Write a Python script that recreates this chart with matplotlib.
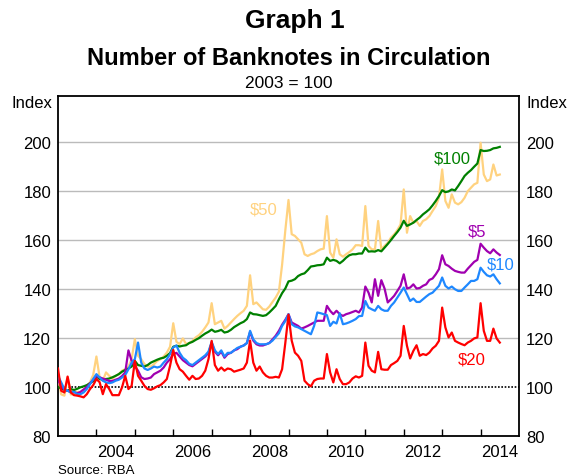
import matplotlib
matplotlib.use("Agg")
import matplotlib.pyplot as plt
import numpy as np

plt.rcParams['font.family'] = ['Liberation Sans', 'DejaVu Sans']

# Monthly data, Dec 2002 .. Jun 2014 (end-of-month), index 2003 = 100
start_year = 2003.0
n100 = [100, 99.5, 98.9, 98.5, 99.2, 98.8, 99.3, 99.9, 100.3, 100.8, 101.6, 102.4,
        104.4, 103.3, 103, 103.3, 103.5, 104, 104.6, 105.3, 106.3, 107, 107.6, 108.4,
        110.7, 109, 108.7, 108.4, 109, 110, 110.6, 111.2, 111.7, 112, 112.8, 113.9,
        116.5, 116.9, 116.6, 116.9, 117.1, 118, 118.5, 119.3, 120, 121, 121.9, 122.6,
        123.5, 122.6, 122.9, 123.4, 122.3, 122.6, 123.4, 124.5, 125.3, 126.1, 126.7, 127.8,
        130.5, 129.8, 129.7, 129.4, 129.1, 129.4, 130.5, 131.8, 133.2, 135.9, 138.4, 140.3,
        143.2, 143.5, 144.1, 145.4, 146.1, 146.5, 147.8, 149.3, 149.5, 149.8, 149.9, 150.2,
        152.9, 151.6, 152, 151.6, 150.6, 151.6, 152.9, 153.9, 154.3, 154.3, 154.6, 154.6,
        157, 155.4, 155.5, 155.4, 156, 155.5, 157, 158.5, 160.1, 161.8, 163.4, 165.2,
        168, 165.9, 166.5, 167.2, 168.3, 169.3, 170.6, 171.6, 172.7, 174.3, 176.1, 178.1,
        180.5, 179.7, 180, 180.8, 180.4, 182.2, 184.2, 186.3, 187.6, 188.7, 190.1, 191.4,
        196.9, 196.5, 196.6, 196.9, 197.6, 197.8, 198.2]
n50 = [104, 97, 96.5, 104, 97, 97, 98, 98, 99, 100, 102, 105,
       112.5, 104, 102.6, 106, 104.6, 103.3, 104.6, 105.3, 106.7, 107.3, 108.4, 111.4,
       119.6, 112.8, 111.4, 109.4, 108.4, 108.4, 109.4, 110.7, 111.4, 112.5, 114.1, 116.5,
       126.1, 118.5, 117.6, 119.9, 117.6, 118, 118.9, 120.3, 121.2, 122.6, 124.4, 126.4,
       134.3, 125.7, 126.4, 127.1, 123.9, 125, 126.4, 127.8, 129.1, 130.2, 131.2, 133.2,
       145.7, 133.9, 134.6, 133.2, 131.8, 131.6, 132.9, 134.8, 136.6, 139, 150, 164,
       176.5, 162.5, 161.8, 160.4, 159, 154.3, 153.6, 154.3, 154.7, 155.6, 156.3, 156.6,
       169.9, 155, 152.9, 160.4, 154.3, 153.3, 154.3, 155.2, 156.3, 158, 158, 157.7,
       174, 157.7, 156.3, 156.3, 167.9, 156.3, 157.7, 159, 161.1, 162.4, 164.2, 166.5,
       180.8, 163.1, 169.9, 167.2, 167.9, 165.9, 167.9, 168.6, 169.9, 172, 174, 177.4,
       189, 176.1, 173.3, 178.8, 175.4, 174.7, 175.6, 177.4, 180.1, 181.5, 182.9, 183.5,
       199.9, 186.9, 184.2, 184.9, 191, 186.5, 186.9]
n20 = [107.6, 98.5, 97.8, 104.3, 97.8, 96.7, 96.5, 96.2, 95.8, 97.1, 99.2, 100.8,
       103.3, 102, 97.1, 101.2, 99.2, 96.7, 96.7, 96.7, 99.9, 104.6, 99.2, 100.5,
       110.7, 104.6, 102.6, 100.5, 99.2, 98.9, 99.5, 100.3, 100.8, 101.9, 103.3, 108.7,
       115.2, 110, 107.3, 106.3, 104.6, 103, 104.6, 103.3, 103.5, 104.6, 106.7, 111.4,
       118.9, 109, 106.7, 108, 106.7, 107.6, 107.3, 106.3, 106.7, 107.1, 107.6, 110,
       119, 110, 106.7, 108.4, 106, 104.6, 103.9, 103.9, 104.2, 103.9, 107.3, 118,
       129.6, 119, 114.1, 112.8, 110.7, 102.6, 101.2, 100.3, 102.6, 103.3, 103.5, 103.5,
       113.5, 106, 101.9, 107.3, 103.3, 101.2, 101.2, 101.9, 103.5, 104.4, 103.9, 104.6,
       118.2, 108.7, 106.7, 106, 114.4, 107.3, 107.1, 107.1, 109, 109.8, 110.7, 112.8,
       125, 116.9, 111.7, 114.8, 117.1, 112.8, 113.5, 113.1, 114.1, 115.8, 116.9, 118.9,
       132.5, 124.4, 120.3, 122.3, 118.9, 118.2, 117.6, 117.1, 118.2, 118.9, 119.9, 120.3,
       134.3, 123, 118.9, 118.9, 123.9, 119.9, 118.2]
n10 = [104.6, 101.9, 99.2, 98.5, 97.8, 98.1, 97.1, 97.1, 97.8, 99.2, 101.2, 103.3,
       105.3, 103.9, 102.6, 101.9, 101.6, 101.9, 102.6, 103, 103.9, 104.9, 107.3, 110,
       111.4, 118.2, 110, 107.6, 107, 107.6, 108.4, 108, 108.4, 110, 111.4, 113.5,
       116.2, 117, 114, 112, 111, 109.5, 109, 110, 111, 112, 113, 114.5,
       118.5, 115, 113.5, 115, 112.5, 114, 114, 115, 116, 116.5, 117, 118,
       123, 119.5, 118, 117.5, 117.5, 117.5, 118, 119, 120.5, 122, 125, 127,
       129.8, 125.7, 124.8, 124.4, 123.7, 123, 122.3, 121.6, 125, 130.5, 130.2, 129.8,
       129.4, 125, 126.7, 126, 130.2, 125.7, 126, 126.5, 127.1, 127.8, 129, 129.1,
       135.2, 132.5, 131.8, 131.2, 133.2, 131.8, 131.2, 131.2, 133.2, 134.6, 136.6, 138.6,
       140.7, 138, 135.2, 136.2, 134.8, 134.8, 135.9, 137, 138, 138.6, 140, 141.4,
       144.8, 141.4, 140.3, 141.1, 140, 139.3, 139.3, 140.7, 142, 143.4, 143.4, 144.1,
       148.8, 147.1, 145.7, 145.2, 146.1, 144.1, 142.4]
n5 = [103, 100, 99, 98.5, 98, 98, 97.5, 98, 99, 100, 101.5, 103,
      104.5, 104, 103.5, 103, 102.5, 102.5, 103, 103.5, 104.5, 106, 115, 110.7,
      108.5, 106.7, 104, 103.3, 103.5, 103.9, 105.3, 106, 106.7, 108, 110, 111.4,
      113.5, 114, 112.5, 111, 110, 109, 108.5, 109.5, 110.5, 111.5, 112.5, 114,
      118, 114.5, 113, 114.5, 112, 113.5, 114, 115, 115.5, 116.5, 117, 118,
      122.5, 119, 117.5, 117, 117, 117.5, 118, 119.5, 121, 123, 125.5, 127.5,
      129.8, 126.4, 125.7, 125, 123.9, 124.4, 125, 125.7, 126.4, 127.1, 127.1, 127.1,
      133.2, 131.2, 129.8, 131.2, 129.8, 129.1, 129.8, 130.2, 130.7, 131.2, 130.5, 132.5,
      141.1, 138.6, 134.6, 144.1, 137.3, 143.7, 140.3, 134.6, 135.9, 137.3, 139.3, 141.4,
      146.1, 140.3, 140.7, 142, 140.3, 140.5, 141.4, 142, 143.8, 144.4, 146.1, 148.2,
      153.9, 150.2, 149.5, 148.4, 147.5, 147.1, 146.8, 146.8, 148.4, 149.8, 151.2, 152,
      158.6, 157, 155.6, 154.7, 156.3, 155, 154]

series = [
    ("$50", n50, "#FFD27F"),
    ("$100", n100, "#008000"),
    ("$5", n5, "#A000B0"),
    ("$10", n10, "#1E88FF"),
    ("$20", n20, "#FF0000"),
]
labels = {
    "$50": (2008.34, 172.6),
    "$100": (2013.26, 193.6),
    "$5": (2013.91, 163.7),
    "$10": (2014.51, 150.2),
    "$20": (2013.78, 111.4),
}
yticks = [80, 100, 120, 140, 160, 180, 200]
year_ticks = list(range(2004, 2015))
year_labels = [2004, 2006, 2008, 2010, 2012, 2014]

x = start_year + np.arange(len(n100)) / 12.0

W, H = 568, 477
fig = plt.figure(figsize=(W / 100, H / 100), dpi=100)
ax = fig.add_axes([58 / W, (H - 437) / H, (519 - 58) / W, (437 - 97) / H])

for yv in yticks:
    if yv in (80, 100):
        continue
    ax.axhline(yv, color="#BBBBBB", lw=1.0, zorder=1)
ax.axhline(100, color="black", lw=1.2, ls=(0, (1, 1)), zorder=2)

for name, vals, col in series:
    ax.plot(x, vals, color=col, lw=1.6, zorder=3, solid_joinstyle="round")
    lx, ly = labels[name]
    ax.text(lx, ly, name, color=col, fontsize=12, ha="center", va="center", zorder=4)

ax.set_xlim(2003.0, 2015.0)
ax.set_ylim(80, 219)

ax.set_xticks([y + 0.5 for y in year_labels])
ax.set_xticklabels([str(y) for y in year_labels], fontsize=12)
ax.set_xticks(year_ticks, minor=True)
ax.tick_params(axis="x", which="major", length=0, pad=6)
ax.tick_params(axis="x", which="minor", direction="in", length=5, width=1, color="black")

ax.set_yticks(yticks)
ax.set_yticklabels([str(v) for v in yticks], fontsize=12)
ax.tick_params(axis="y", which="both", length=0, pad=5, labelleft=True, labelright=True)

for sp in ax.spines.values():
    sp.set_linewidth(1.3)
    sp.set_color("black")

fig.text(52 / W, 1 - 104 / H, "Index", ha="right", va="center", fontsize=12)
fig.text(526 / W, 1 - 104 / H, "Index", ha="left", va="center", fontsize=12)

fig.text(295 / W, 1 - 28 / H, "Graph 1", ha="center", va="baseline", fontsize=19, fontweight="bold")
fig.text(289 / W, 1 - 65 / H, "Number of Banknotes in Circulation", ha="center", va="baseline",
         fontsize=17, fontweight="bold")
fig.text(289 / W, 1 - 88 / H, "2003 = 100", ha="center", va="baseline", fontsize=12.5)
fig.text(58 / W, 1 - 474 / H, "Source: RBA", ha="left", va="baseline", fontsize=9.5)

fig.savefig("out.png", dpi=100)
